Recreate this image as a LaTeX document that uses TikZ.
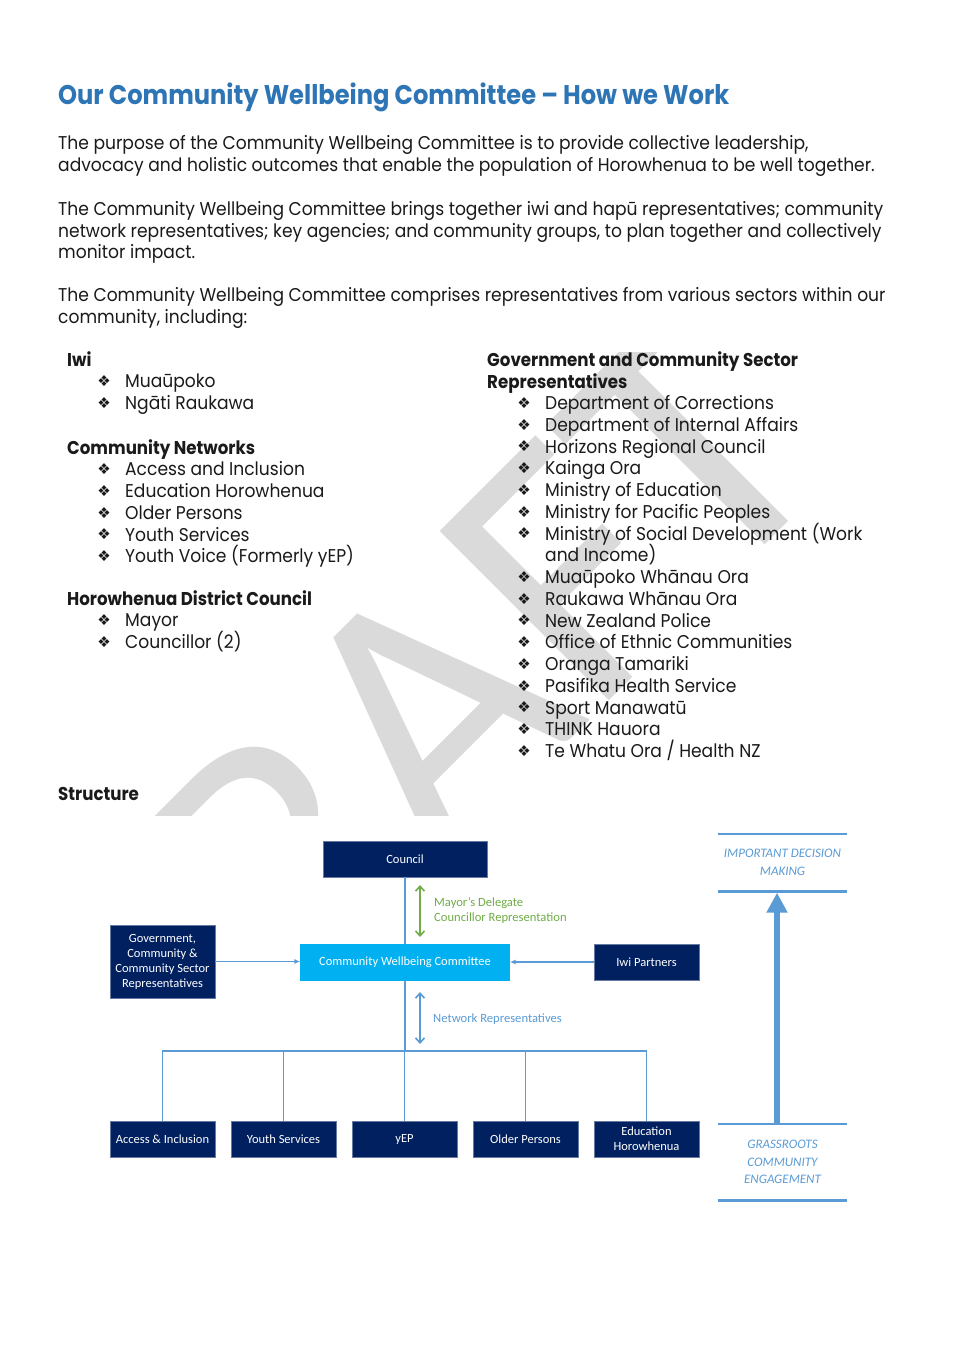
\documentclass[tikz,border=0pt]{standalone}
\usepackage{fontspec}
\setmainfont{Poppins}[FakeStretch=0.925]
\newfontfamily\hb{Poppins}[FakeStretch=0.9]
\newfontfamily\titlef{Poppins}[FakeStretch=0.895]
\newfontfamily\calib{Carlito}
\newfontfamily\dejavu{DejaVu Sans}
\usetikzlibrary{arrows.meta}
\definecolor{navy}{HTML}{002060}
\definecolor{cyanbox}{HTML}{00B0F0}
\definecolor{linkblue}{HTML}{5B9BD5}
\definecolor{grn}{HTML}{70AD47}
\definecolor{titleblue}{HTML}{2E75B6}
\definecolor{wmgray}{HTML}{DADADA}
\definecolor{bodytext}{HTML}{1A1A1A}
\def\slsh{/}
\tikzset{
  body/.style={anchor=base west, inner sep=0pt, text=bodytext, font=\fontsize{18.5}{22}\selectfont},
  head/.style={body, font=\hb\bfseries\fontsize{18.5}{22}\selectfont},
  bul/.style={anchor=center, inner sep=0pt, text=bodytext, font=\dejavu\fontsize{15}{15}\selectfont},
  box/.style={fill=navy, draw=navy!60!white, line width=0.4pt, text=white, inner sep=0pt, align=center,
     font=\calib\fontsize{12.5}{15}\selectfont},
  link/.style={draw=linkblue, line width=1.6pt},
  tip/.style={-{Latex[length=6pt,width=5pt]}},
  dbl/.style={line width=1.6pt, {Straight Barb[length=5pt,width=9pt]}-{Straight Barb[length=5pt,width=9pt]}},
  lab/.style={anchor=base west, inner sep=0pt, font=\calib\fontsize{12.6}{14}\selectfont},
  side/.style={inner sep=0pt, align=center, text=linkblue, font=\calib\itshape\fontsize{13}{17.5}\selectfont},
  rule/.style={draw=linkblue, line width=2.6pt},
}
\begin{document}
\begin{tikzpicture}[x=1pt,y=-1pt]
\useasboundingbox (0,0) rectangle (956,1351);
\fill[white] (0,0) rectangle (956,1351);

% watermark
\begin{scope}
\clip (0,352) rectangle (956,815);
\node[anchor=base, rotate=45, inner sep=0pt, text=wmgray, font=\calib\fontsize{373}{373}\selectfont] (wm) at (487,823) {DRAFT};
\end{scope}

% title and paragraphs
\node[anchor=base west, inner sep=0pt, text=titleblue, font=\titlef\bfseries\fontsize{27}{30}\selectfont] (title) at (58,105) {Our Community Wellbeing Committee – How we Work};
\node[body] (p1a) at (58,150) {The purpose of the Community Wellbeing Committee is to provide collective leadership,};
\node[body] (p1b) at (58,171.5) {advocacy and holistic outcomes that enable the population of Horowhenua to be well together.};
\node[body] (p2a) at (58,215) {The Community Wellbeing Committee brings together iwi and hapū representatives; community};
\node[body] (p2b) at (58,237) {network representatives; key agencies; and community groups, to plan together and collectively};
\node[body] (p2c) at (58,258) {monitor impact.};
\node[body] (p3a) at (58,301) {The Community Wellbeing Committee comprises representatives from various sectors within our};
\node[body] (p3b) at (58,323) {community, including:};

% left column
\node[head] (hiwi) at (67,366) {Iwi};
\foreach \t [count=\i] in {Muaūpoko, Ngāti Raukawa}{
  \node[bul] (bi\i) at (104,359.5+21.75*\i) {❖};
  \node[body] (ti\i) at (125,366+21.75*\i) {\t};
}
\node[head] (hcn) at (67,454) {Community Networks};
\foreach \t [count=\i] in {Access and Inclusion, Education Horowhenua, Older Persons, Youth Services, Youth Voice (Formerly yEP)}{
  \node[bul] (bc\i) at (104,447.5+21.75*\i) {❖};
  \node[body] (tc\i) at (125,454+21.75*\i) {\t};
}
\node[head] (hdc) at (67,605) {Horowhenua District Council};
\foreach \t [count=\i] in {Mayor, Councillor (2)}{
  \node[bul] (bd\i) at (104,598.5+21.75*\i) {❖};
  \node[body] (td\i) at (125,605+21.75*\i) {\t};
}

% right column
\node[head] (hg1) at (487,366) {Government and Community Sector};
\node[head] (hg2) at (487,388) {Representatives};
\foreach \t/\k [count=\i] in {Department of Corrections/0, Department of Internal Affairs/1, Horizons Regional Council/2, Kainga Ora/3, Ministry of Education/4, Ministry for Pacific Peoples/5, Ministry of Social Development (Work/6, Muaūpoko Whānau Ora/8, Raukawa Whānau Ora/9, New Zealand Police/10, Office of Ethnic Communities/11, Oranga Tamariki/12, Pasifika Health Service/13, Sport Manawatū/14, THINK Hauora/15, Te Whatu Ora \slsh{} Health NZ/16}{
  \node[bul] (bg\i) at (524,403+21.75*\k) {❖};
  \node[body] (tg\i) at (545,409.5+21.75*\k) {\t};
}
\node[body] (tg7b) at (545,409.5+21.75*7) {and Income)};

\node[head] (struct) at (58,800) {Structure};

% ---------- diagram ----------
\node[box, minimum width=164, minimum height=36] (council) at (405,859) {Council};
\node[box, fill=cyanbox, draw=cyanbox, minimum width=209, minimum height=36] (cwc) at (405,962) {Community Wellbeing Committee};
\node[box, minimum width=105, minimum height=73] (gov) at (162.5,961.5) {Government,\\Community \&\\Community Sector\\Representatives};
\node[box, minimum width=105, minimum height=36] (iwi) at (646.5,962) {Iwi Partners};
\node[box, minimum width=105, minimum height=36] (acc) at (162.5,1139) {Access \& Inclusion};
\node[box, minimum width=105, minimum height=36] (yth) at (283.5,1139) {Youth Services};
\node[box, minimum width=105, minimum height=36] (yep) at (404.5,1139) {yEP};
\node[box, minimum width=105, minimum height=36] (old) at (525.5,1139) {Older Persons};
\node[box, minimum width=105, minimum height=36] (edu) at (646.5,1139) {Education\\Horowhenua};

\draw[link] (council) -- (cwc);
\draw[link, tip] (gov.east) -- (gov.east -| cwc.west);
\draw[link, tip] (iwi.west) -- (iwi.west -| cwc.east);

\coordinate (bus) at (405,1051);
\draw[link] (cwc.south) -- (bus);
\draw[link] (acc.north) -- (acc.north |- bus) -- (edu.north |- bus) -- (edu.north);
\draw[link] (yth.north) -- (yth.north |- bus);
\draw[link] (yep.north) -- (yep.north |- bus);
\draw[link] (old.north) -- (old.north |- bus);

\coordinate (g1) at (420,885);
\coordinate (g2) at (420,937);
\draw[dbl, draw=grn] (g1) -- (g2);
\node[lab, text=grn] (md) at (434,906.5) {Mayor’s Delegate};
\node[lab, text=grn] (cr) at (434,921) {Councillor Representation};

\coordinate (n1) at (420,992);
\coordinate (n2) at (420,1044);
\draw[dbl, draw=linkblue] (n1) -- (n2);
\node[lab, text=linkblue] (nr) at (433,1022) {Network Representatives};

% right side
\node[side, minimum width=129, minimum height=57] (imp) at (782.5,862.5) {IMPORTANT DECISION\\MAKING};
\node[side, minimum width=129, minimum height=76] (grass) at (782.5,1162) {GRASSROOTS\\COMMUNITY\\ENGAGEMENT};
\draw[rule] (imp.north west) -- (imp.north east);
\draw[rule] (imp.south west) -- (imp.south east);
\draw[rule] (grass.north west) -- (grass.north east);
\draw[rule] (grass.south west) -- (grass.south east);
\coordinate (ax) at (777,0);
\draw[draw=linkblue, line width=6pt, -{Triangle[length=20pt,width=20pt]}] (grass.north -| ax) -- ([yshift=-1.5pt]imp.south -| ax);
\end{tikzpicture}
\end{document}
